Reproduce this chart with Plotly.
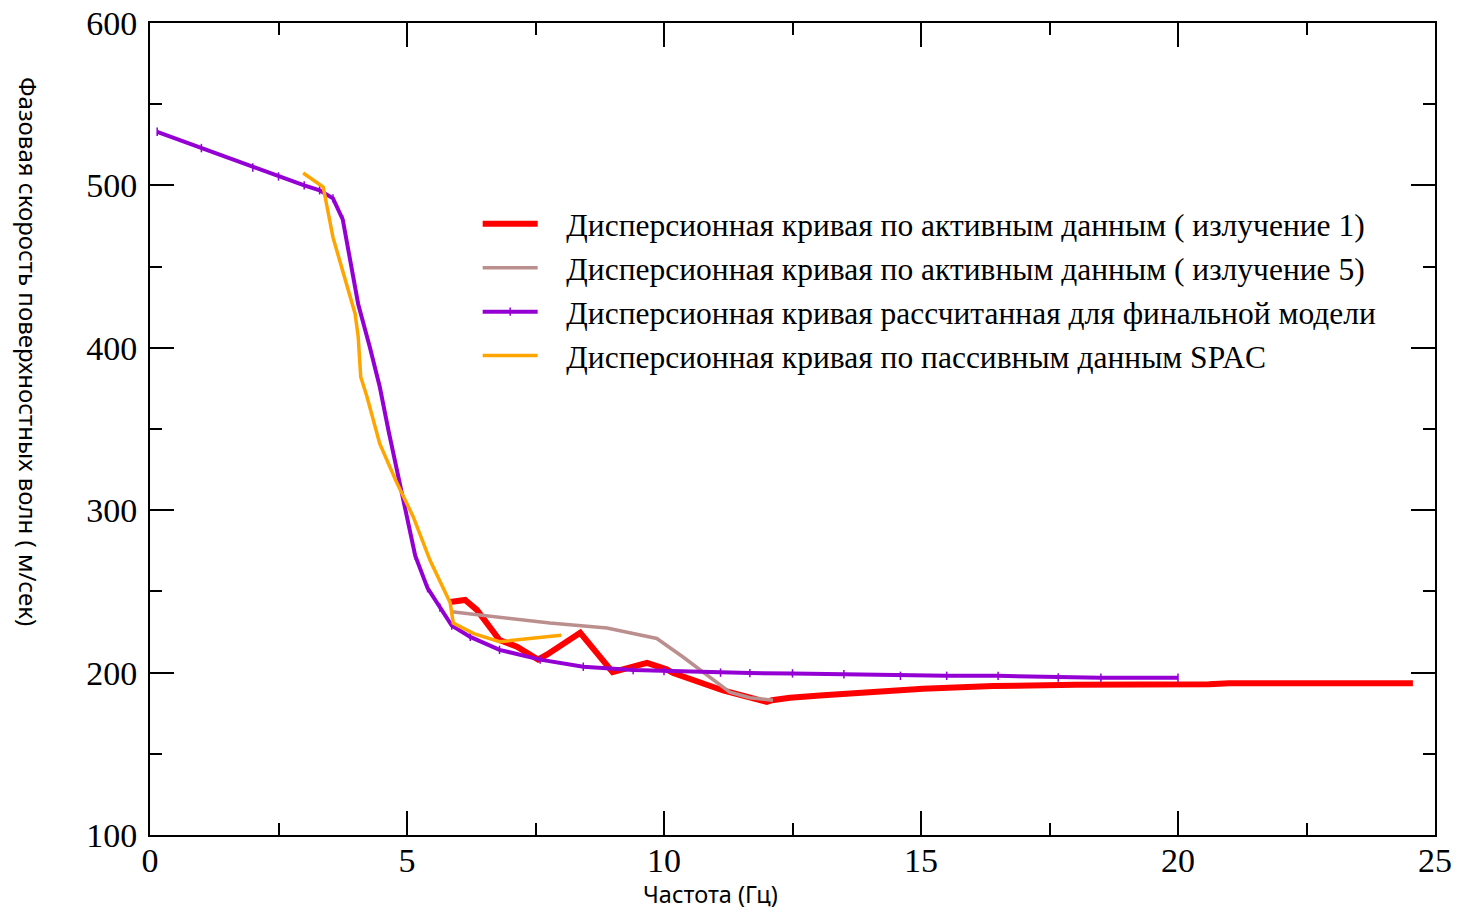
import plotly.graph_objects as go

# Active data, shot 1
act1_f = [5.84, 6.13, 6.36, 6.8, 7.14, 7.55, 7.72, 8.37, 9.0, 9.67, 10.05, 10.18,
          11.15, 12.0, 12.1, 12.45, 13.1, 14.07, 15.04, 16.4, 18.0, 20.6, 21.0, 24.57]
act1_v = [243.5, 244.7, 238.6, 220, 216, 208, 211, 224.5, 200.3, 206, 202, 199.7,
          189, 181.9, 183, 184.5, 186, 188, 190, 191.7, 192.5, 192.8, 193.5, 193.5]

# Active data, shot 5
act5_f = [5.87, 6.8, 7.78, 8.89, 9.53, 9.86, 10.37, 10.84, 11.28, 11.67, 12.12]
act5_v = [237.4, 234.3, 230.5, 227.5, 223.5, 221, 209.6, 198.5, 188, 184.5, 183]

# Curve computed for the final model
model_f = [0.14, 1.0, 2.0, 2.5, 3.0, 3.3, 3.56, 3.75, 3.89, 4.05, 4.28, 4.47, 4.64,
           4.8, 5.0, 5.16, 5.4, 5.64, 5.87, 6.23, 6.8, 7.59, 8.43, 9.4, 10.0, 11.1,
           11.67, 12.5, 13.5, 14.6, 15.5, 16.5, 17.67, 18.5, 20.0]
model_v = [533, 523, 511, 505.5, 500, 497, 492, 479, 454, 427, 400, 376, 349,
           325, 296, 272, 252, 240, 229, 222, 214, 208, 203.6, 201.6, 201, 200,
           199.7, 199.5, 199, 198, 198, 198, 197, 196.8, 196.8]

# Passive data (SPAC)
spac_f = [2.98, 3.37, 3.56, 3.75, 3.99, 4.05, 4.1, 4.22, 4.47, 4.8, 5.12, 5.45,
          5.84, 5.9, 6.3, 6.8, 7.14, 8.0]
spac_v = [507.6, 499, 468, 448, 421, 407, 382, 370, 341, 317, 296, 269,
          243, 230.5, 224, 219, 220, 223]

names = [
    "Дисперсионная кривая по активным данным ( излучение 1)",
    "Дисперсионная кривая по активным данным ( излучение 5)",
    "Дисперсионная кривая рассчитанная для финальной модели",
    "Дисперсионная кривая по пассивным данным SPAC",
]

x_ticks = [0, 5, 10, 15, 20, 25]
y_ticks = [100, 200, 300, 400, 500, 600]

# small gap between the legend sample line and its label
pad = "\u00a0\u00a0\u00a0"

fig = go.Figure()
fig.add_trace(go.Scatter(x=act1_f, y=act1_v, mode="lines", name=pad + names[0],
                         line=dict(color="#ff0000", width=6)))
fig.add_trace(go.Scatter(x=act5_f, y=act5_v, mode="lines", name=pad + names[1],
                         line=dict(color="#bc8f8f", width=3.5)))
fig.add_trace(go.Scatter(x=model_f, y=model_v, mode="lines+markers", name=pad + names[2],
                         line=dict(color="#9400d3", width=4),
                         marker=dict(symbol="line-ns", size=6,
                                     line=dict(color="#9400d3", width=1.5))))
fig.add_trace(go.Scatter(x=spac_f, y=spac_v, mode="lines", name=pad + names[3],
                         line=dict(color="#ffa500", width=3.5)))

axis_common = dict(
    showline=True, linecolor="black", linewidth=2, mirror="allticks",
    ticks="inside", ticklen=24, tickwidth=2, tickcolor="black",
    showgrid=False, zeroline=False, automargin=False,
    tickfont=dict(family="Liberation Serif", size=34, color="black"),
)

fig.update_xaxes(range=[0, 25], tickvals=x_ticks, ticklabelstandoff=-6,
                 minor=dict(ticks="inside", ticklen=12, dtick=2.5, tick0=0,
                            tickwidth=2, tickcolor="black"),
                 **axis_common)
fig.update_yaxes(range=[100, 600], tickvals=y_ticks, ticklabelstandoff=4,
                 minor=dict(ticks="inside", ticklen=12, dtick=50, tick0=100,
                            tickwidth=2, tickcolor="black"),
                 **axis_common)

title_font = dict(family="Noto Sans", size=24, color="black")
fig.add_annotation(
    text="Фазовая скорость поверхностных волн ( м/сек)",
    textangle=90, xref="paper", yref="paper", x=-0.095, y=0.595,
    xanchor="center", yanchor="middle", showarrow=False, font=title_font,
)
fig.add_annotation(
    text="Частота (Гц)", xref="paper", yref="paper", x=0.436, y=-0.073,
    xanchor="center", yanchor="middle", showarrow=False,
    font=dict(family="Noto Sans", size=23.5, color="black"),
)

fig.update_layout(
    width=1457, height=912,
    margin=dict(l=150, r=22, t=23, b=77),
    paper_bgcolor="white", plot_bgcolor="white",
    legend=dict(x=0.255, y=0.786, xanchor="left", yanchor="top",
                bgcolor="rgba(0,0,0,0)", itemwidth=55, tracegroupgap=0,
                font=dict(family="Liberation Serif", size=31.5, color="black")),
)

fig.write_html("out.html")
